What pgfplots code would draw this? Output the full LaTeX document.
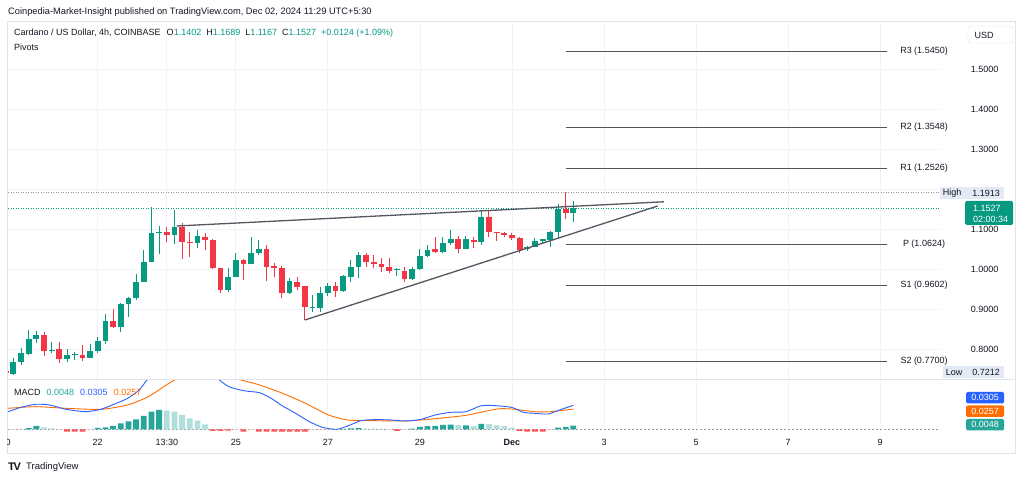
\documentclass[border=0pt]{standalone}
\usepackage{fontspec}
\setmainfont{Liberation Sans}
\usepackage{pgfplots}
\usepackage{pgfplotstable}
\pgfplotsset{compat=1.18}

\definecolor{cgreen}{HTML}{089981}
\definecolor{cred}{HTML}{F23645}
\definecolor{ctext}{HTML}{131722}
\definecolor{cgrid}{HTML}{F0F3FA}
\definecolor{cframe}{HTML}{E0E3EB}
\definecolor{hteal}{HTML}{26A69A}
\definecolor{hlteal}{HTML}{B2DFDB}
\definecolor{hred}{HTML}{FF5252}
\definecolor{hpink}{HTML}{FFCDD2}
\definecolor{cblue}{HTML}{2962FF}
\definecolor{corange}{HTML}{FF6D00}
\definecolor{cpivot}{HTML}{50535E}
\definecolor{ctrend}{HTML}{555760}
\definecolor{clabelbg}{HTML}{E3EAF5}
\definecolor{chigh}{HTML}{9598A1}

% green (rising) candles
\pgfplotstableread{
k O H L C
1 0.7375 0.7767 0.7350 0.7683
2 0.7683 0.8017 0.7600 0.7890
3 0.7875 0.8475 0.7850 0.8250
4 0.8250 0.8460 0.8140 0.8350
6 0.7960 0.8183 0.7890 0.7983
8 0.7750 0.7990 0.7683 0.7850
9 0.7850 0.7933 0.7725 0.7858
11 0.7783 0.8117 0.7767 0.7950
12 0.7950 0.8308 0.7892 0.8208
13 0.8208 0.8875 0.8125 0.8700
15 0.8540 0.9142 0.8433 0.9117
16 0.9117 0.9308 0.8808 0.9267
17 0.9267 0.9875 0.9225 0.9667
18 0.9667 1.0475 0.9667 1.0167
19 1.0167 1.1558 1.0167 1.0908
20 1.0908 1.1083 1.0375 1.0933
22 1.0850 1.1475 1.0617 1.1058
25 1.0660 1.0975 1.0517 1.0825
29 0.9475 1.0017 0.9433 0.9808
30 0.9808 1.0392 0.9792 1.0225
32 1.0125 1.0792 1.0125 1.0392
33 1.0392 1.0725 1.0350 1.0492
37 0.9410 0.9767 0.9375 0.9710
40 0.9017 0.9350 0.8933 0.9042
41 0.9017 0.9558 0.8933 0.9408
42 0.9392 0.9658 0.9325 0.9575
44 0.9460 0.9850 0.9433 0.9825
45 0.9808 1.0225 0.9683 1.0058
46 1.0058 1.0433 0.9767 1.0350
51 0.9975 1.0017 0.9825 0.9992
53 0.9742 1.0042 0.9725 0.9992
54 0.9992 1.0492 0.9975 1.0325
55 1.0325 1.0600 1.0308 1.0475
57 1.0433 1.0808 1.0392 1.0642
58 1.0642 1.0975 1.0600 1.0742
60 1.0492 1.0825 1.0492 1.0742
62 1.0667 1.1458 1.0600 1.1292
68 1.0492 1.0575 1.0458 1.0558
69 1.0542 1.0767 1.0542 1.0708
70 1.0710 1.0742 1.0642 1.0742
71 1.0725 1.0958 1.0558 1.0933
72 1.0933 1.1625 1.0742 1.1492
74 1.1402 1.1689 1.1167 1.1527
}\greentab

% red (falling) candles
\pgfplotstableread{
k O H L C
0 0.7450 0.7480 0.7360 0.7400
5 0.8350 0.8433 0.7833 0.7958
7 0.7998 0.8183 0.7658 0.7750
10 0.7850 0.8100 0.7700 0.7780
14 0.8700 0.8992 0.8520 0.8540
21 1.0933 1.1058 1.0667 1.0850
23 1.1058 1.1142 1.0242 1.0667
24 1.0667 1.0933 1.0308 1.0660
26 1.0808 1.0908 1.0475 1.0725
27 1.0725 1.0750 1.0000 1.0017
28 1.0017 1.0017 0.9392 0.9475
31 1.0225 1.0250 0.9725 1.0125
34 1.0492 1.0600 0.9708 1.0058
35 1.0075 1.0158 0.9792 1.0025
36 1.0017 1.0075 0.9267 0.9410
38 0.9683 0.9792 0.9475 0.9558
39 0.9575 0.9575 0.8725 0.9042
43 0.9575 0.9683 0.9292 0.9460
47 1.0350 1.0392 1.0042 1.0183
48 1.0183 1.0350 1.0017 1.0125
49 1.0125 1.0267 0.9933 1.0058
50 1.0058 1.0267 0.9892 0.9950
52 0.9958 1.0042 0.9683 0.9742
56 1.0492 1.0808 1.0392 1.0433
59 1.0742 1.0825 1.0392 1.0492
61 1.0725 1.0808 1.0517 1.0667
63 1.1292 1.1475 1.0792 1.0933
64 1.0933 1.0933 1.0708 1.0908
65 1.0908 1.0933 1.0808 1.0850
66 1.0850 1.0892 1.0725 1.0767
67 1.0767 1.0808 1.0392 1.0475
73 1.1492 1.1913 1.1242 1.1390
}\redtab

\begin{document}
\begin{tikzpicture}[every node/.style={font=\fontsize{9}{11}\selectfont, text=ctext}]
\fill[white] (0,0) rectangle (1024pt,481pt);

% ---------------- main price pane ----------------
\begin{axis}[
  at={(8pt,102pt)}, anchor=south west, scale only axis,
  width=932pt, height=358pt,
  xmin=0.3, xmax=121.8, ymin=0.725, ymax=1.62,
  axis line style={draw=none}, major tick length=0pt,
  xtick={12,21,30,42,54,66,78,90,102,114}, xticklabels={},
  ytick={0.8,0.9,1.0,1.1,1.2,1.3,1.4,1.5},
  yticklabels={0.8000,0.9000,1.0000,1.1000,{},1.3000,1.4000,1.5000},
  yticklabel pos=right,
  yticklabel style={anchor=east, xshift=62pt, font=\fontsize{9}{11}\selectfont, text=ctext},
  xmajorgrids, ymajorgrids, grid style={cgrid, line width=0.8pt},
]
% reference dotted lines
\addplot[chigh, line width=0.7pt, dash pattern=on 1pt off 1.5pt] coordinates {(0.3,1.1913) (121.8,1.1913)};
\addplot[cgreen, line width=0.7pt, dash pattern=on 1pt off 1.5pt] coordinates {(0.3,1.1527) (121.8,1.1527)};
% pivot levels
\addplot[cpivot, line width=0.8pt] coordinates {(73,1.5450) (114.9,1.5450)};
\addplot[cpivot, line width=0.8pt] coordinates {(73,1.3548) (114.9,1.3548)};
\addplot[cpivot, line width=0.8pt] coordinates {(73,1.2526) (114.9,1.2526)};
\addplot[cpivot, line width=0.8pt] coordinates {(73,1.0624) (114.9,1.0624)};
\addplot[cpivot, line width=0.8pt] coordinates {(73,0.9602) (114.9,0.9602)};
\addplot[cpivot, line width=0.8pt] coordinates {(73,0.7700) (114.9,0.7700)};
% wicks
\addplot[draw=none, mark=none, error bars/.cd, y dir=plus, y explicit, error mark=none,
  error bar style={draw=cgreen, solid, line width=1pt}]
  table[x=k, y=L, y error expr={\thisrow{H}-\thisrow{L}}] {\greentab};
\addplot[draw=none, mark=none, error bars/.cd, y dir=plus, y explicit, error mark=none,
  error bar style={draw=cred, solid, line width=1pt}]
  table[x=k, y=L, y error expr={\thisrow{H}-\thisrow{L}}] {\redtab};
% bodies
\addplot[draw=none, mark=none, error bars/.cd, y dir=plus, y explicit, error mark=none,
  error bar style={draw=cgreen, solid, line width=5.8pt, line cap=butt}]
  table[x=k, y=O, y error expr={max(\thisrow{C}-\thisrow{O},0.0025)}] {\greentab};
\addplot[draw=none, mark=none, error bars/.cd, y dir=plus, y explicit, error mark=none,
  error bar style={draw=cred, solid, line width=5.8pt, line cap=butt}]
  table[x=k, y=C, y error expr={max(\thisrow{O}-\thisrow{C},0.0025)}] {\redtab};
% trend lines (rising wedge)
\addplot[ctrend, line width=1.3pt] coordinates {(22.3,1.1075) (85.8,1.1680)};
\addplot[ctrend, line width=1.3pt] coordinates {(39,0.8725) (85,1.1575)};
\end{axis}

% ---------------- MACD pane ----------------
\begin{axis}[
  at={(8pt,48pt)}, anchor=south west, scale only axis,
  width=932pt, height=54pt,
  xmin=0.3, xmax=121.8, ymin=-0.0047, ymax=0.064,
  axis line style={draw=none}, major tick length=0pt,
  xtick={12,21,30,42,54,66,78,90,102,114},
  xticklabels={22,13:30,25,27,29,\textbf{Dec},3,5,7,9},
  xticklabel style={anchor=center, yshift=-9.5pt, text height=6.5pt, text depth=0pt, font=\fontsize{9}{11}\selectfont, text=ctext},
  ytick=\empty,
  xmajorgrids, grid style={cgrid, line width=0.8pt},
]
\addplot[chigh, line width=0.6pt, dash pattern=on 2pt off 2pt] coordinates {(0.3,0) (121.8,0)};
\addplot[ybar, bar width=5.8pt, bar shift=0pt, fill=hteal, draw=none] coordinates {
(3,0.0015) (4,0.0045) (12,0.0018) (13,0.0025) (14,0.0045) (15,0.0075) (16,0.0100) (17,0.0127)
(18,0.0170) (19,0.0225) (20,0.0246) (44,0.0005) (45,0.0012) (46,0.0015) (53,0.0010) (54,0.0030)
(55,0.0040) (56,0.0045) (57,0.0055) (58,0.0060) (60,0.0050) (62,0.0070) (72,0.0020) (73,0.0030) (74,0.0048)};
\addplot[ybar, bar width=5.8pt, bar shift=0pt, fill=hlteal, draw=none] coordinates {
(5,0.0025) (6,0.0012) (21,0.0237) (22,0.0225) (23,0.0182) (24,0.0140) (25,0.0110) (26,0.0064)
(47,0.0010) (48,0.0008) (49,0.0005) (59,0.0052) (61,0.0040) (63,0.0065) (64,0.0050) (65,0.0040) (66,0.0020)};
\addplot[ybar, bar width=5.8pt, bar shift=0pt, fill=hred, draw=none] coordinates {
(8,-0.0028) (9,-0.0028) (10,-0.0028) (27,-0.0020) (28,-0.0020) (29,-0.0018) (31,-0.0028)
(33,-0.0028) (34,-0.0028) (35,-0.0028) (36,-0.0028) (37,-0.0028) (38,-0.0028) (39,-0.0028)
(51,-0.0020) (67,-0.0020) (68,-0.0028) (69,-0.0028) (70,-0.0028)};
\addplot[ybar, bar width=5.8pt, bar shift=0pt, fill=hpink, draw=none] coordinates {
(0,-0.0008) (1,-0.0008) (2,-0.0005) (7,-0.0005) (11,-0.0010) (30,-0.0008) (32,-0.0010)
(40,-0.0010) (41,-0.0010) (42,-0.0008) (43,-0.0005) (50,-0.0006) (52,-0.0006) (71,-0.0010)};
% signal line
\addplot[corange, line width=0.9pt, smooth, tension=0.4] coordinates {
(0.3,0.0267) (3.9,0.0288) (7.9,0.0267) (12.4,0.0254) (15.9,0.0310) (18.6,0.0415) (20.6,0.0542)
(22.4,0.0650) (25,0.0780) (28,0.0740) (29.9,0.0650) (33.1,0.0564) (36.1,0.0458) (39.1,0.0330)
(42.1,0.0182) (44.6,0.0118) (47,0.0112) (52,0.0106) (56,0.0135) (60,0.0178) (64,0.0258)
(66,0.0258) (69,0.0224) (71,0.0224) (74,0.0257)};
% MACD line
\addplot[cblue, line width=0.9pt, smooth, tension=0.4] coordinates {
(0.3,0.0224) (2,0.0280) (3.9,0.0318) (5.7,0.0310) (7.9,0.0254) (10.4,0.0224) (12.4,0.0254)
(14.1,0.0318) (15.9,0.0394) (17.4,0.0500) (18.6,0.0650) (20.5,0.0850) (23,0.0950) (25.5,0.0850)
(27.6,0.0650) (29.1,0.0542) (31.1,0.0490) (33.1,0.0466) (34.6,0.0394) (36.1,0.0296) (37.8,0.0203)
(39.6,0.0097) (41.3,0.0025) (43.1,0.0000) (44.6,0.0042) (46.3,0.0110) (48.1,0.0123) (50,0.0120)
(52,0.0106) (54,0.0123) (56,0.0182) (58,0.0216) (60,0.0224) (62,0.0300) (64,0.0300) (66,0.0278)
(67.5,0.0216) (69,0.0203) (70.7,0.0195) (72.2,0.0246) (74,0.0305)};
\end{axis}

% ---------------- annotations (image pixel coordinates) ----------------
\begin{scope}[shift={(0,481pt)}, x=1pt, y=-1pt]
\draw[cframe, line width=0.8pt] (7,21) rectangle (1015,453);
\draw[cframe, line width=0.8pt] (7,379) -- (1015,379);

\node[anchor=west, inner sep=0pt, font=\fontsize{9.3}{11}\selectfont] at (8,12) {Coinpedia-Market-Insight published on TradingView.com, Dec 02, 2024 11:29 UTC+5:30};
\node[anchor=west, inner sep=0pt] at (14,33) {Cardano / US Dollar, 4h, COINBASE\hspace{6pt}O\textcolor{cgreen}{1.1402}\hspace{5pt}H\textcolor{cgreen}{1.1689}\hspace{5pt}L\textcolor{cgreen}{1.1167}\hspace{5pt}C\textcolor{cgreen}{1.1527}\hspace{5pt}\textcolor{cgreen}{+0.0124 (+1.09\%)}};
\node[anchor=west, inner sep=0pt] at (14,47) {Pivots};
\node[anchor=west, inner sep=0pt] at (14,392) {MACD\hspace{6pt}\textcolor{hteal}{0.0048}\hspace{6pt}\textcolor{cblue}{0.0305}\hspace{6pt}\textcolor{corange}{0.0257}};

% pivot labels
\node at (924,51) {R3 (1.5450)};
\node at (924,127) {R2 (1.3548)};
\node at (924,168) {R1 (1.2526)};
\node at (924,244) {P (1.0624)};
\node at (924,285) {S1 (0.9602)};
\node at (924,361) {S2 (0.7700)};

% USD box
\draw[cframe, fill=white, rounded corners=3pt] (968,26) rectangle (1013,43);
\node at (984,35) {USD};

% High label
\fill[clabelbg] (940,187) rectangle (1004,199);
\node[inner sep=0pt] at (952,193) {High};
\node[inner sep=0pt] at (986,193) {1.1913};
% current price label
\fill[cgreen, rounded corners=1.5pt] (965,201) rectangle (1013,225);
\node[anchor=west, inner sep=0pt, text=white] at (973,208) {1.1527};
\node[anchor=west, inner sep=0pt, text=white] at (973,219.5) {02:00:34};
% Low label
\fill[clabelbg] (943,366) rectangle (1004,378);
\node[inner sep=0pt] at (954,372) {Low};
\node[inner sep=0pt] at (986,372) {0.7212};

% MACD value labels
\fill[cblue, rounded corners=1.5pt] (966,392) rectangle (1004,403.5);
\node[text=white, inner sep=0pt] at (985,397.8) {0.0305};
\fill[corange, rounded corners=1.5pt] (966,405.5) rectangle (1004,417);
\node[text=white, inner sep=0pt] at (985,411.3) {0.0257};
\fill[hteal, rounded corners=1.5pt] (966,419) rectangle (1004,430.5);
\node[text=white, inner sep=0pt] at (985,424.8) {0.0048};

% clipped first date label
\begin{scope}
\clip (7.5,434) rectangle (30,450);
\node at (5.7,442) {20};
\end{scope}

% TradingView logo
\node[anchor=west, inner sep=0pt] at (8,467) {\fontsize{11}{11}\selectfont\bfseries T\kern-1.2pt V};
\node[anchor=west, inner sep=0pt] at (26,467.5) {\fontsize{9.5}{11}\selectfont TradingView};
\end{scope}

\pgfresetboundingbox
\path (0,0) rectangle (1024pt,481pt);
\end{tikzpicture}
\end{document}
